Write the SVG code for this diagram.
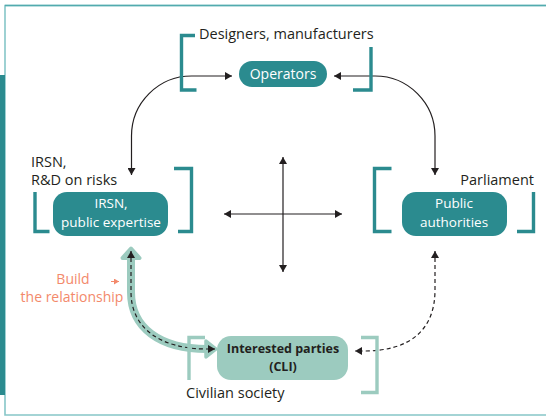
<svg xmlns="http://www.w3.org/2000/svg" width="546" height="416" viewBox="0 0 546 416">
<style>
  .frame { fill: none; stroke: #86c6c8; stroke-width: 1.6; }
  .bracket { fill: none; stroke: #2b8b8f; stroke-width: 3.4; }
  .bracket-light { fill: none; stroke: #9ccbbf; stroke-width: 3.4; }
  .node { fill: #2b8b8f; }
  .node-light { fill: #9ccbbf; }
  .ntext { font-family: "Open Sans", "Liberation Sans", sans-serif; font-size: 13.5px; fill: #ffffff; text-anchor: middle; }
  .btext { font-family: "Open Sans", "Liberation Sans", sans-serif; font-size: 12.5px; font-weight: bold; fill: #231f20; text-anchor: middle; }
  .label { font-family: "Open Sans", "Liberation Sans", sans-serif; font-size: 14.5px; fill: #231f20; }
  .salmon { font-family: "Open Sans", "Liberation Sans", sans-serif; font-size: 14px; fill: #f3896b; text-anchor: middle; }
  .conn { fill: none; stroke: #231f20; stroke-width: 1.2; }
  .dash { stroke-dasharray: 4 3; }
</style>
<defs>
  <marker id="arr" viewBox="0 0 7 8" refX="7" refY="4" markerWidth="7" markerHeight="8" markerUnits="userSpaceOnUse" orient="auto-start-reverse">
    <path d="M0,0 L7,4 L0,8 z" fill="#231f20"/>
  </marker>
  <marker id="arrS" viewBox="0 0 5 6" refX="5" refY="3" markerWidth="5" markerHeight="6" markerUnits="userSpaceOnUse" orient="auto">
    <path d="M0,0 L5,3 L0,6 z" fill="#f3896b"/>
  </marker>
</defs>

<g id="frame">
  <path class="frame" d="M546,5.5 L5,5.5 L5,415 L546,415"/>
  <line x1="5" y1="5.5" x2="546" y2="5.5" stroke="#52abae" stroke-width="1.6"/>
  <rect x="0" y="75" width="5" height="320" fill="#2b8b8f"/>
</g>

<g id="connectors">
  <path class="conn" d="M131.5,175 L131.5,136 A60,60 0 0 1 191.5,76 L232,76" marker-start="url(#arr)" marker-end="url(#arr)"/>
  <path class="conn" d="M435,175 L435,136 A60,60 0 0 0 375,76 L334,76" marker-start="url(#arr)" marker-end="url(#arr)"/>
  <path class="conn" d="M283,157 L283,272" marker-start="url(#arr)" marker-end="url(#arr)"/>
  <path class="conn" d="M224,214 L342,214" marker-start="url(#arr)" marker-end="url(#arr)"/>
  <path class="conn dash" d="M435,251 L435,290 C435,330 410,351 364,351 L355,351" marker-start="url(#arr)" marker-end="url(#arr)"/>
  <g id="relationship">
    <path d="M131,256 L131,292 C131,328 160,349 207,349" fill="none" stroke="#9ccbbf" stroke-width="8"/>
    <path d="M131,248.5 L139.5,258 L122.5,258 z" fill="#9ccbbf" stroke="#9ccbbf" stroke-width="4" stroke-linejoin="round"/>
    <path d="M216,349 L206,341 L206,357 z" fill="#9ccbbf" stroke="#9ccbbf" stroke-width="3.5" stroke-linejoin="round"/>
    <path class="conn dash" d="M131,251 L131,292 C131,328 160,349 207,349 L215,349" marker-start="url(#arr)" marker-end="url(#arr)"/>
  </g>
  <path d="M111,281.5 L119,281.5" stroke="#f3896b" stroke-width="1.2" stroke-dasharray="3 2" marker-end="url(#arrS)"/>
</g>

<g id="operators">
  <path class="bracket" d="M195,35.5 L181.5,35.5 L181.5,90 L196.5,90"/>
  <path class="bracket" d="M371,47 L371,90 L353,90"/>
  <text class="label" x="199" y="39">Designers, manufacturers</text>
  <rect class="node" x="239" y="61" width="88" height="26" rx="13"/>
  <text class="ntext" x="283" y="79" style="font-size:14px">Operators</text>
</g>

<g id="irsn">
  <text class="label" x="31" y="167">IRSN,</text>
  <text class="label" x="31" y="185">R&amp;D on risks</text>
  <path class="bracket" d="M35,192 L35,231.5 L49.5,231.5"/>
  <path class="bracket" d="M174,168.5 L191.5,168.5 L191.5,231.5 L178,231.5"/>
  <rect class="node" x="53" y="192" width="115" height="44" rx="14"/>
  <text class="ntext" x="111" y="208">IRSN,</text>
  <text class="ntext" x="111" y="226.5">public expertise</text>
</g>

<g id="public-authorities">
  <path class="bracket" d="M391.5,168.5 L374.5,168.5 L374.5,231.5 L391.5,231.5"/>
  <path class="bracket" d="M533.5,192 L533.5,231.5 L517,231.5"/>
  <text class="label" x="534" y="185" text-anchor="end">Parliament</text>
  <rect class="node" x="402" y="192" width="105" height="44" rx="14"/>
  <text class="ntext" x="454" y="208">Public</text>
  <text class="ntext" x="454" y="226.5">authorities</text>
</g>

<g id="interested-parties">
  <path class="bracket-light" d="M205,337.5 L189,337.5 L189,380"/>
  <path class="bracket-light" d="M361,337.5 L377,337.5 L377,392.5 L361,392.5"/>
  <rect class="node-light" x="217" y="336" width="131" height="44" rx="14"/>
  <text class="btext" x="283" y="353">Interested parties</text>
  <text class="btext" x="283" y="370.5">(CLI)</text>
  <text class="label" x="186" y="398">Civilian society</text>
</g>

<g id="build-label">
  <text class="salmon" x="73" y="284">Build</text>
  <text class="salmon" x="72" y="302">the relationship</text>
</g>
</svg>
